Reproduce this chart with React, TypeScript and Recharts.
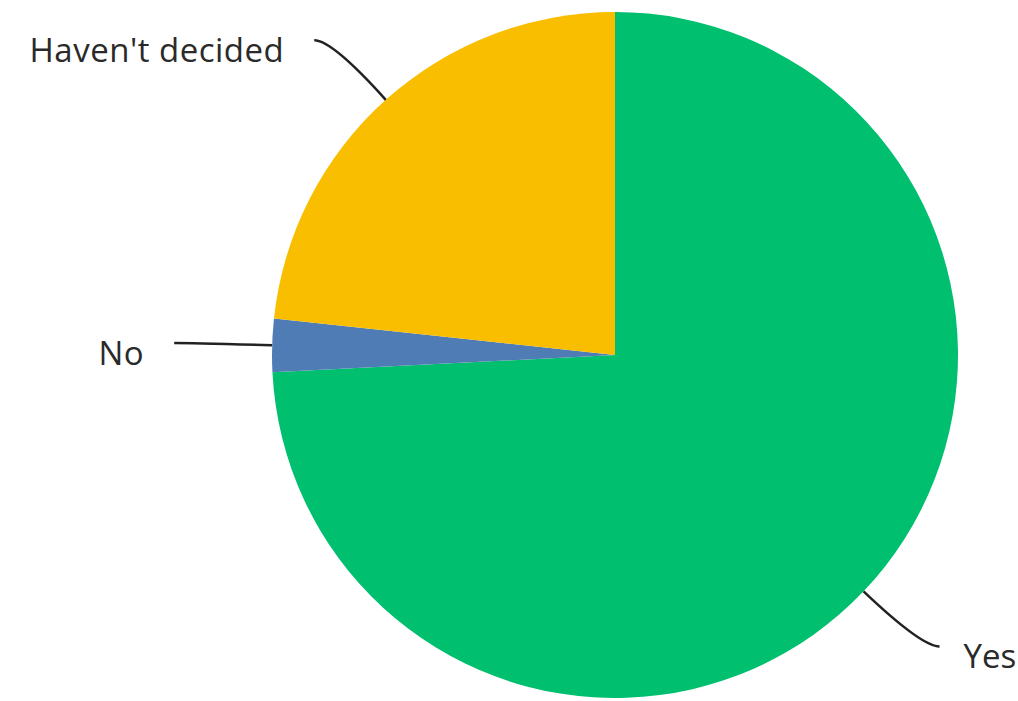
import { PieChart, Pie, Cell } from "recharts";

const answers = ["Yes", "No", "Haven't decided"];
const shares = [74.2, 2.5, 23.3];
const sliceColors = ["#00BF6F", "#507CB6", "#F9BE00"];

const data = answers.map((name, i) => ({ name, value: shares[i] }));

const RAD = Math.PI / 180;

const SliceLabel = ({ cx, cy, midAngle, outerRadius, name }: any) => {
  const dx = Math.cos(-midAngle * RAD);
  const dy = Math.sin(-midAngle * RAD);
  const sx = cx + outerRadius * dx;
  const sy = cy + outerRadius * dy;
  const ex = cx + (outerRadius + 80) * dx;
  const ey = cy + (outerRadius + 80) * dy;
  const right = dx >= 0;
  const tx = ex + (right ? 18 : -18);
  return (
    <g>
      <path
        d={`M${sx},${sy} Q${ex},${ey} ${tx},${ey}`}
        stroke="#222"
        strokeWidth={2.5}
        fill="none"
      />
      <text
        x={tx + (right ? 24 : -30)}
        y={ey + 9}
        textAnchor={right ? "start" : "end"}
        dominantBaseline="central"
        fill="#2a2a2a"
        fontSize={33}
        fontWeight={500}
        letterSpacing={right ? 0 : 0.5}
        fontFamily="'Open Sans', sans-serif"
      >
        {name}
      </text>
    </g>
  );
};

export default function App() {
  return (
    <div style={{ position: "absolute", left: 0, top: 0, background: "#fff" }}>
      <PieChart width={1018} height={701} margin={{ top: 0, right: 0, bottom: 0, left: 0 }}>
        <Pie
          data={data}
          dataKey="value"
          nameKey="name"
          cx={615}
          cy={355}
          outerRadius={343}
          startAngle={90}
          endAngle={-270}
          stroke="none"
          label={SliceLabel}
          labelLine={false}
          isAnimationActive={false}
        >
          {data.map((_, i) => (
            <Cell key={i} fill={sliceColors[i]} />
          ))}
        </Pie>
      </PieChart>
    </div>
  );
}
